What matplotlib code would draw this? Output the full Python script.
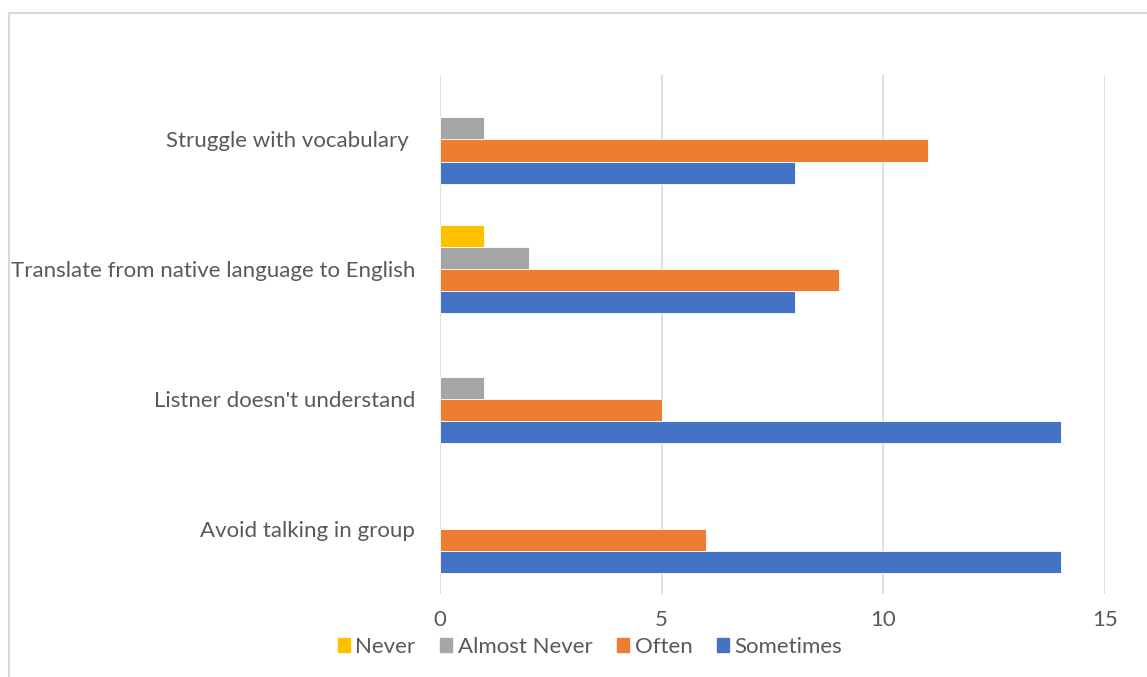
import matplotlib
matplotlib.use("Agg")
import matplotlib.pyplot as plt
from matplotlib.lines import Line2D
import numpy as np

categories = ["Avoid talking in group", "Listner doesn't understand",
              "Translate from native language to English", "Struggle with vocabulary "]
series_names = ["Sometimes", "Often", "Almost Never", "Never"]
sometimes = [14, 14, 8, 8]
often = [6, 5, 9, 11]
almost_never = [0, 1, 2, 1]
never = [0, 0, 1, 0]
colors = {"Sometimes": "#4472C4", "Often": "#ED7D31", "Almost Never": "#A5A5A5", "Never": "#FFC000"}
xticks = [0, 5, 10, 15]

W, H = 1147, 677
plt.rcParams['font.family'] = ['Lato', 'DejaVu Sans']
fig = plt.figure(figsize=(W / 100, H / 100), dpi=100)

# chart frame
fig.add_artist(Line2D([9 / W, 9 / W], [0, 1 - 13 / H], color="#D9D9D9", lw=1.5, transform=fig.transFigure))
fig.add_artist(Line2D([9 / W, 1], [1 - 13 / H, 1 - 13 / H], color="#D9D9D9", lw=1.5, transform=fig.transFigure))

left, right = 440, 1105
top, bottom = 74.6, 593.6
ax = fig.add_axes([left / W, 1 - bottom / H, (right - left) / W, (bottom - top) / H])

y = np.arange(len(categories))
bh = 0.17
vals = [sometimes, often, almost_never, never]
offsets = [-1.5 * bh, -0.5 * bh, 0.5 * bh, 1.5 * bh]
for name, v, off in zip(series_names, vals, offsets):
    lws = [0.6 if val > 0 else 0 for val in v]
    ax.barh(y + off, v, height=bh, color=colors[name], edgecolor="white", linewidth=lws, label=name, zorder=3)

ax.set_xlim(0, 15)
ax.set_ylim(-0.5, 3.5)
ax.set_xticks(xticks)
ax.set_yticks(y)
ax.set_yticklabels(categories)
ax.grid(axis="x", color="#D9D9D9", lw=1.2, zorder=0)
for s in ax.spines.values():
    s.set_visible(False)
ax.tick_params(axis="both", length=0, labelsize=16, colors="#595959")
ax.tick_params(axis="x", pad=12)
ax.tick_params(axis="y", pad=18)

handles = [plt.Rectangle((0, 0), 1, 1, color=colors[n]) for n in ["Never", "Almost Never", "Often", "Sometimes"]]
leg = fig.legend(handles, ["Never", "Almost Never", "Often", "Sometimes"], loc="center",
                 bbox_to_anchor=(590 / W, 1 - 647 / H), ncol=4, frameon=False,
                 fontsize=16, handlelength=0.55, handleheight=0.55, handletextpad=0.25, columnspacing=1.1)
for t in leg.get_texts():
    t.set_color("#595959")

fig.savefig("out.png", dpi=100, facecolor="white")
